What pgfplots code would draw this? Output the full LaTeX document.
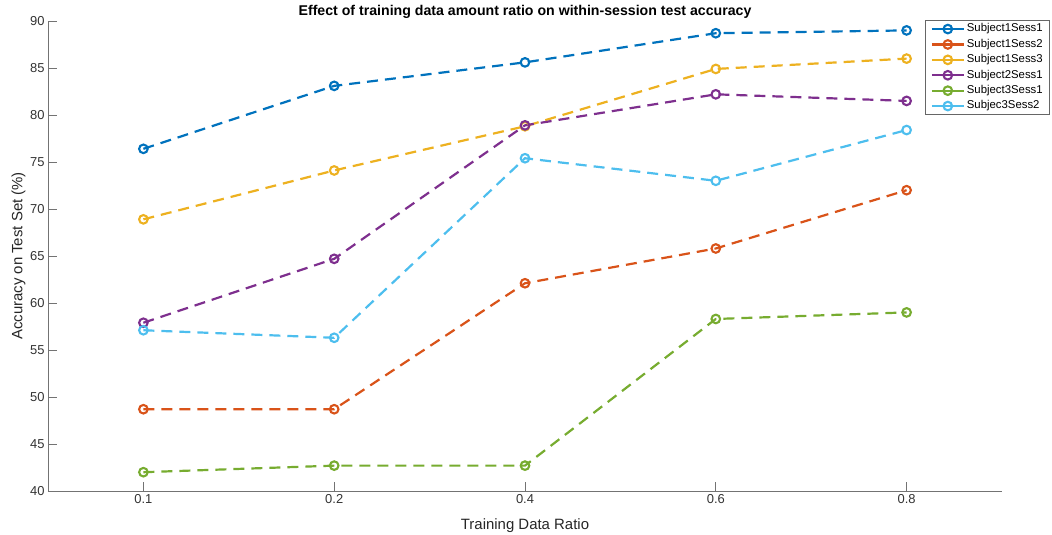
\documentclass[border=0pt]{standalone}
\usepackage{fontspec}
\setmainfont{Liberation Sans}
\usepackage{pgfplots}
\pgfplotsset{compat=1.18}
\definecolor{c1}{rgb}{0,0.447,0.741}
\definecolor{c2}{rgb}{0.85,0.325,0.098}
\definecolor{c3}{rgb}{0.929,0.694,0.125}
\definecolor{c4}{rgb}{0.494,0.184,0.556}
\definecolor{c5}{rgb}{0.466,0.674,0.188}
\definecolor{c6}{rgb}{0.301,0.745,0.933}
\begin{document}
\begin{tikzpicture}
\path[use as bounding box] (-48bp,-44bp) rectangle (1004bp,491bp);
\begin{axis}[
  scale only axis, width=954bp, height=470bp,
  anchor=south west, at={(0,0)},
  xmin=-0.5, xmax=4.5, ymin=40, ymax=90,
  xtick={0,1,2,3,4}, xticklabels={0.1,0.2,0.4,0.6,0.8},
  ytick={40,45,...,90},
  axis x line*=bottom, axis y line*=left,
  axis line style={black!55, line width=0.8bp},
  tick align=inside, major tick length=9bp,
  tick style={black!55, line width=0.8bp},
  every tick label/.append style={font=\fontsize{13}{15}\selectfont, text=black!80},
  /pgf/number format/assume math mode=true,
  xlabel={Training Data Ratio}, ylabel={Accuracy on Test Set (\%)},
  label style={font=\fontsize{15}{17}\selectfont, text=black!85},
  xlabel style={at={(axis description cs:0.5,0)}, anchor=base, yshift=-38bp},
  ylabel style={at={(axis description cs:0,0.5)}, anchor=south, yshift=19bp},
  title={Effect of training data amount ratio on within-session test accuracy},
  title style={font=\bfseries\fontsize{14.2}{16}\selectfont, at={(axis description cs:0.5,1)}, anchor=base, yshift=0bp},
  legend style={at={(rel axis cs:1.0503,1.002)}, anchor=north east,
    draw=black!60, line width=0.6bp, inner xsep=5bp, inner ysep=1bp,
    font=\fontsize{11.4}{13}\selectfont,
    nodes={inner sep=2bp, text height=8.6bp, text depth=2.8bp}},
  legend cell align=left,
  legend image code/.code={\draw[#1, solid, mark repeat=2, mark phase=2] plot coordinates {(0bp,0bp) (16bp,0bp) (32bp,0bp)};},
  every axis plot/.append style={dash pattern=on 11bp off 7bp, line width=2.2bp, mark=o, mark size=4.3bp, mark options={solid, fill=white, line width=2.1bp}},
]
\addplot[c1] coordinates {(0,76.4) (1,83.1) (2,85.6) (3,88.7) (4,89.0)};
\addlegendentry{Subject1Sess1}
\addplot[c2] coordinates {(0,48.7) (1,48.7) (2,62.1) (3,65.8) (4,72.0)};
\addlegendentry{Subject1Sess2}
\addplot[c3] coordinates {(0,68.9) (1,74.1) (2,78.8) (3,84.9) (4,86.0)};
\addlegendentry{Subject1Sess3}
\addplot[c4] coordinates {(0,57.9) (1,64.7) (2,78.9) (3,82.2) (4,81.5)};
\addlegendentry{Subject2Sess1}
\addplot[c5] coordinates {(0,42.0) (1,42.7) (2,42.7) (3,58.3) (4,59.0)};
\addlegendentry{Subject3Sess1}
\addplot[c6] coordinates {(0,57.1) (1,56.3) (2,75.4) (3,73.0) (4,78.4)};
\addlegendentry{Subjec3Sess2}
\end{axis}
\end{tikzpicture}
\end{document}
